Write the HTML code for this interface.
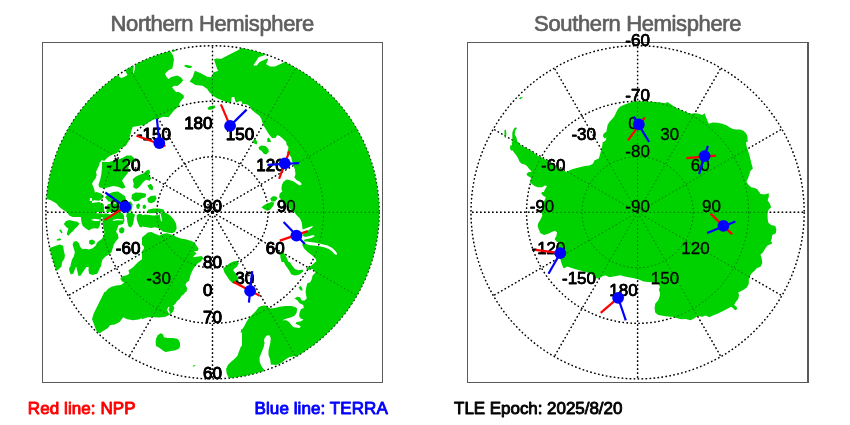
<!DOCTYPE html>
<html><head><meta charset="utf-8"><title>Polar orbit crossings</title>
<style>html,body{margin:0;padding:0;background:#fff}svg{display:block;will-change:transform}text{font-family:"Liberation Sans",sans-serif}</style>
</head><body>
<svg width="850" height="425" viewBox="0 0 850 425">
<rect width="850" height="425" fill="#fff"/>
<defs>
<clipPath id="cn"><circle cx="212.5" cy="212.3" r="166.9"/></clipPath>
<clipPath id="cs"><circle cx="637.6" cy="212.3" r="166.9"/></clipPath>
</defs>
<g fill="none" stroke="#5a5a5a" stroke-width="1">
<rect x="42.5" y="42.5" width="340" height="340"/>
<rect x="467.5" y="42.5" width="341" height="340"/>
</g>
<line x1="808" y1="42" x2="808" y2="383" stroke="#5a5a5a" stroke-width="2"/>
<g fill="none" stroke="#000" stroke-width="1.4" stroke-dasharray="1.6 2.4">
<circle cx="212.5" cy="212.3" r="55.53333333333333"/>
<circle cx="212.5" cy="212.3" r="111.06666666666666"/>
<circle cx="212.5" cy="212.3" r="166.6"/>
<line x1="212.5" y1="212.3" x2="212.50" y2="378.90"/>
<line x1="212.5" y1="212.3" x2="295.80" y2="356.58"/>
<line x1="212.5" y1="212.3" x2="356.78" y2="295.60"/>
<line x1="212.5" y1="212.3" x2="379.10" y2="212.30"/>
<line x1="212.5" y1="212.3" x2="356.78" y2="129.00"/>
<line x1="212.5" y1="212.3" x2="295.80" y2="68.02"/>
<line x1="212.5" y1="212.3" x2="212.50" y2="45.70"/>
<line x1="212.5" y1="212.3" x2="129.20" y2="68.02"/>
<line x1="212.5" y1="212.3" x2="68.22" y2="129.00"/>
<line x1="212.5" y1="212.3" x2="45.90" y2="212.30"/>
<line x1="212.5" y1="212.3" x2="68.22" y2="295.60"/>
<line x1="212.5" y1="212.3" x2="129.20" y2="356.58"/>
</g>
<g fill="none" stroke="#000" stroke-width="1.4" stroke-dasharray="1.6 2.4">
<circle cx="637.6" cy="212.3" r="55.53333333333333"/>
<circle cx="637.6" cy="212.3" r="111.06666666666666"/>
<circle cx="637.6" cy="212.3" r="166.6"/>
<line x1="637.6" y1="212.3" x2="637.60" y2="378.90"/>
<line x1="637.6" y1="212.3" x2="720.90" y2="356.58"/>
<line x1="637.6" y1="212.3" x2="781.88" y2="295.60"/>
<line x1="637.6" y1="212.3" x2="804.20" y2="212.30"/>
<line x1="637.6" y1="212.3" x2="781.88" y2="129.00"/>
<line x1="637.6" y1="212.3" x2="720.90" y2="68.02"/>
<line x1="637.6" y1="212.3" x2="637.60" y2="45.70"/>
<line x1="637.6" y1="212.3" x2="554.30" y2="68.02"/>
<line x1="637.6" y1="212.3" x2="493.32" y2="129.00"/>
<line x1="637.6" y1="212.3" x2="471.00" y2="212.30"/>
<line x1="637.6" y1="212.3" x2="493.32" y2="295.60"/>
<line x1="637.6" y1="212.3" x2="554.30" y2="356.58"/>
</g>
<g font-size="17" fill="#000" stroke="#000" stroke-width="0.95" stroke-linejoin="round">
<text x="170.9" y="140.2" text-anchor="end">-150</text>
<text x="140.4" y="170.7" text-anchor="end">-120</text>
<text x="129.2" y="212.3" text-anchor="end">-90</text>
<text x="140.4" y="254.0" text-anchor="end">-60</text>
<text x="170.9" y="284.4" text-anchor="end">-30</text>
<text x="212.5" y="295.6" text-anchor="end">0</text>
<text x="254.1" y="284.4" text-anchor="end">30</text>
<text x="284.6" y="254.0" text-anchor="end">60</text>
<text x="295.8" y="212.3" text-anchor="end">90</text>
<text x="284.6" y="170.7" text-anchor="end">120</text>
<text x="254.1" y="140.2" text-anchor="end">150</text>
<text x="212.5" y="129.0" text-anchor="end">180</text>
<text x="212.5" y="212.3" text-anchor="middle">90</text>
<text x="212.5" y="267.8" text-anchor="middle">80</text>
<text x="212.5" y="323.4" text-anchor="middle">70</text>
<text x="212.5" y="378.9" text-anchor="middle">60</text>
</g>
<g font-size="17" fill="#000" stroke="#000" stroke-width="0.6" stroke-linejoin="round">
<text x="596.0" y="284.4" text-anchor="end">-150</text>
<text x="565.5" y="253.9" text-anchor="end">-120</text>
<text x="554.3" y="212.3" text-anchor="end">-90</text>
<text x="565.5" y="170.7" text-anchor="end">-60</text>
<text x="596.0" y="140.2" text-anchor="end">-30</text>
<text x="637.6" y="129.0" text-anchor="end">0</text>
<text x="679.2" y="140.2" text-anchor="end">30</text>
<text x="709.7" y="170.7" text-anchor="end">60</text>
<text x="720.9" y="212.3" text-anchor="end">90</text>
<text x="709.7" y="253.9" text-anchor="end">120</text>
<text x="679.2" y="284.4" text-anchor="end">150</text>
<text x="637.6" y="295.6" text-anchor="end">180</text>
<text x="637.6" y="212.3" text-anchor="middle">-90</text>
<text x="637.6" y="156.8" text-anchor="middle">-80</text>
<text x="637.6" y="101.2" text-anchor="middle">-70</text>
<text x="637.6" y="45.7" text-anchor="middle">-60</text>
</g>
<g fill="#00d200" fill-rule="evenodd">
<path d="M189.6,81.4 195.5,84.9 202.6,85.8 207.3,89.1 209.2,91.9 209.1,92.0 212.6,95.5 217.3,98.5 223.2,100.8 229.1,102.8 231.1,102.0 231.7,97.3 234.3,96.9 235.3,101.2 236.5,102.6 239.6,101.2 242.0,101.5 242.0,103.7 247.3,104.4 250.2,106.7 251.4,109.6 254.9,112.6 259.6,116.1 261.4,119.1 262.6,123.2 263.8,126.1 269.1,134.4 272.0,137.9 275.5,137.9 277.3,135.0 279.7,136.1 283.2,139.1 286.2,142.0 286.5,144.4 288.5,147.3 287.9,150.2 286.7,153.2 289.1,154.4 291.2,157.3 292.0,161.4 293.8,162.9 293.2,165.5 294.9,169.3 295.5,174.3 294.4,177.3 296.4,179.9 299.6,181.4 302.0,184.3 299.6,185.5 296.1,183.2 293.8,181.4 290.2,180.2 286.7,179.6 283.8,181.4 282.0,184.4 281.4,189.1 282.4,192.0 281.4,192.0 279.6,193.8 279.1,197.3 286.7,204.9 292.8,212.0 294.3,212.0 296.4,214.9 299.9,218.5 301.7,222.6 302.6,229.6 312.3,225.9 312.9,226.7 307.8,230.8 303.5,233.8 302.3,235.5 305.2,236.9 313.5,234.9 314.8,236.1 311.7,238.1 304.6,239.6 303.5,241.4 302.3,244.9 304.1,248.5 307.6,252.0 312.3,255.5 315.8,259.1 316.3,262.0 315.3,262.0 311.4,265.5 306.1,268.5 308.1,269.9 312.6,269.1 315.5,272.6 312.6,275.5 311.6,279.6 310.2,282.2 307.3,283.2 306.1,287.9 305.6,292.0 306.7,298.5 304.3,300.8 301.4,300.2 300.2,297.3 297.3,296.7 294.4,298.5 297.3,300.2 299.6,303.2 303.2,305.0 303.8,307.9 301.0,309.0 299.6,312.6 299.1,316.1 300.8,318.5 303.7,319.7 300.2,321.4 296.7,322.0 295.5,323.8 298.5,324.9 300.8,326.2 299.6,327.9 293.8,327.3 291.4,324.9 289.1,322.0 286.1,320.2 282.2,320.2 286.7,318.5 291.4,317.3 294.9,315.5 296.7,312.6 297.1,308.5 295.5,307.3 291.4,306.1 285.5,306.1 279.6,306.7 274.9,307.9 270.2,308.5 267.3,306.7 264.9,305.5 261.4,306.1 258.5,307.3 256.1,310.8 250.2,316.7 247.9,319.6 246.1,322.6 244.4,326.1 242.1,329.5 242.0,329.5 242.0,328.9 241.4,329.1 240.6,332.6 242.0,332.6 242.0,345.5 240.8,346.7 237.3,356.1 234.9,358.5 231.4,361.4 227.9,364.9 226.1,369.1 226.7,373.8 228.5,377.3 229.4,378.2 237.0,377.3 241.0,376.6 245.0,375.9 253.0,374.1 260.9,371.9 264.8,370.7 261.4,366.1 259.7,362.0 259.6,357.3 263.8,346.7 264.7,342.0 263.9,342.0 264.4,338.5 266.7,335.5 269.6,335.3 270.8,338.5 270.3,342.0 270.5,342.1 268.5,350.2 268.5,354.9 270.2,359.6 270.8,364.4 276.1,364.9 280.8,363.2 285.5,359.6 289.1,357.3 294.9,356.1 295.5,356.7 290.4,359.8 291.1,359.4 298.3,355.4 305.2,351.0 311.9,346.3 315.1,343.8 318.3,341.2 324.5,335.9 327.5,333.1 333.3,327.3 336.1,324.3 341.4,318.1 346.5,311.7 348.9,308.3 353.4,301.5 357.6,294.5 361.5,287.3 365.0,279.9 368.1,272.3 370.9,264.6 373.3,256.8 375.2,248.8 376.8,240.8 378.0,232.7 378.8,224.6 379.2,216.4 379.2,208.2 378.8,200.0 378.0,191.9 376.8,183.8 375.2,175.8 374.3,171.8 372.1,163.9 369.5,156.1 368.1,152.3 365.0,144.7 361.5,137.3 357.6,130.1 353.4,123.1 351.2,119.6 346.5,112.9 341.4,106.5 336.1,100.3 330.4,94.4 324.5,88.7 321.4,86.0 315.1,80.8 311.9,78.3 305.2,73.6 298.3,69.2 291.1,65.2 284.4,61.8 284.3,62.2 274.9,66.5 270.2,66.5 266.1,64.3 268.1,59.6 267.3,58.5 259.6,62.0 256.7,65.5 253.3,65.5 258.5,57.3 266.1,54.7 266.1,54.4 260.9,52.7 253.0,50.5 249.0,49.6 241.7,48.1 237.9,50.2 228.5,54.9 221.4,58.7 216.1,58.5 214.0,59.6 217.3,69.6 218.4,70.8 213.2,72.6 212.4,75.5 210.8,77.3 207.3,76.7 200.8,73.2 194.9,70.8 192.6,77.3ZM307.0,241.4 315.8,242.8 327.6,245.5 332.3,247.9 335.8,251.4 337.0,253.4 337.0,254.8 334.6,254.3 332.3,251.4 328.8,249.1 324.1,247.3 318.2,246.1 308.8,244.9 305.2,243.5 303.5,241.5Z"/>
<path d="M279.9,252.6 280.5,257.9 281.6,262.0 284.0,262.0 284.9,264.4 288.5,269.6 291.4,274.4 294.9,275.5 299.6,274.4 303.2,271.4 302.6,269.6 298.5,270.2 294.9,269.1 292.0,265.5 289.8,262.0 288.5,262.0 286.4,257.3 284.1,253.2 282.3,250.8Z"/>
<path d="M298.5,287.3 300.2,290.0 302.6,290.8 302.2,288.5 300.8,286.1Z"/>
<path d="M270.2,198.5 271.4,201.4 274.9,201.4 277.3,199.1 276.7,196.7 273.2,196.1Z"/>
<path d="M261.4,207.3 263.8,209.1 267.3,210.8 270.2,209.6 273.2,206.1 274.4,202.6 271.4,202.0 267.9,203.2 264.4,204.9Z"/>
<path d="M267.3,142.0 271.0,142.0 270.2,139.6 268.8,137.6 267.3,138.5Z"/>
<path d="M258.5,147.3 259.1,149.6 261.4,150.8 263.8,153.8 266.1,154.4 268.8,152.0 268.5,149.1 265.5,146.1 261.4,145.5Z"/>
<path d="M253.2,142.0 254.0,142.0 254.4,143.8 256.7,144.4 257.3,142.0 257.1,142.0 256.7,140.8 254.9,139.1 253.2,140.2Z"/>
<path d="M223.2,268.5 224.4,272.6 229.6,280.2 232.6,283.2 236.1,283.8 238.5,281.4 237.9,277.3 235.5,273.2 233.2,270.2 234.4,268.5 236.7,266.9 238.7,263.8 237.3,260.8 233.2,261.4 229.6,263.2Z"/>
<path d="M207.4,107.9 208.8,110.1 212.8,109.2 215.6,107.3 214.4,105.6 210.2,105.9Z"/>
<path d="M92.0,319.1 95.5,328.5 97.3,332.6 99.6,333.2 107.9,327.9 110.2,324.9 114.9,324.4 119.6,322.0 123.2,317.3 126.7,319.1 132.6,320.2 138.5,319.6 141.9,318.3 142.0,319.3 147.9,317.3 153.8,317.3 159.6,317.6 165.5,316.7 170.2,314.4 173.2,311.4 174.4,307.9 173.2,305.5 175.5,303.8 176.7,301.4 179.6,299.1 181.4,296.1 184.4,293.8 185.1,292.0 186.3,292.0 187.3,288.5 185.5,284.9 186.5,282.6 189.1,280.8 190.2,276.1 192.0,271.4 194.4,267.3 197.3,263.8 200.8,261.4 203.2,258.5 202.0,256.1 192.9,257.3 193.8,255.9 196.7,253.2 193.9,251.6 197.9,250.8 198.5,248.5 196.1,244.9 194.4,242.0 193.2,242.0 192.6,241.4 186.7,239.6 180.8,238.5 176.1,236.7 172.6,234.9 167.3,233.2 163.2,233.8 159.6,235.5 154.9,233.8 151.4,232.0 147.9,232.6 142.0,237.5 142.0,245.2 143.2,245.5 144.1,247.9 142.9,250.5 142.0,250.6 142.0,259.2 138.5,261.7 134.9,265.2 133.4,267.0 133.2,267.0 131.4,268.5 128.5,270.2 129.3,273.8 126.7,275.3 123.2,276.1 120.2,278.5 122.0,281.4 124.3,282.6 120.8,284.9 116.1,285.5 111.4,286.7 107.9,289.1 105.4,292.0 104.4,292.0 93.8,313.2ZM168.5,309.6 170.2,313.1 169.1,313.7 166.9,309.7 168.5,306.7 169.6,307.3Z"/>
<path d="M192.6,366.1 193.8,366.7 195.5,365.5 194.4,364.9Z"/>
<path d="M183.8,66.1 187.9,68.1 191.2,68.1 192.0,65.9 189.1,65.5 186.1,64.7Z"/>
<path d="M50.8,200.2 56.1,203.2 59.6,207.3 62.6,209.6 67.3,212.6 69.1,215.5 72.6,217.0 80.9,217.0 81.4,221.7 82.6,225.8 86.1,228.8 89.1,230.5 91.4,228.8 94.9,228.2 97.9,228.8 99.6,226.4 101.2,217.0 102.6,217.0 102.6,221.7 103.2,227.6 104.4,232.3 103.8,235.8 102.0,238.8 97.3,242.3 95.5,245.8 92.6,248.2 89.1,249.4 85.5,248.8 82.6,249.3 80.2,247.0 79.1,243.5 76.7,241.1 73.8,241.7 72.6,244.6 73.8,248.8 74.9,252.3 73.8,256.4 72.0,259.4 70.8,264.1 70.3,267.0 69.4,267.0 69.1,270.2 70.8,274.4 73.2,273.8 74.9,269.6 75.8,267.0 76.3,267.0 78.5,276.1 80.8,275.5 83.2,271.4 86.5,267.0 88.7,267.0 88.5,270.2 89.1,273.8 92.6,274.9 97.3,273.8 99.6,269.1 100.1,267.0 100.9,267.0 101.4,263.5 102.6,259.4 105.5,256.4 109.1,254.6 111.4,252.3 112.6,248.8 113.8,244.6 116.1,241.1 118.5,238.2 117.9,234.6 116.1,231.7 117.3,228.8 118.5,225.2 123.2,224.1 124.4,220.5 123.9,217.1 124.3,217.0 123.2,213.8 120.2,212.1 120.4,212.0 121.4,206.7 119.1,203.8 112.0,203.2 107.3,204.4 106.2,212.0 116.6,212.0 116.7,212.1 114.9,212.6 110.2,214.4 105.5,213.2 102.6,214.3 102.6,213.5 95.6,213.3 95.8,212.0 104.3,212.0 103.8,204.4 99.1,202.0 92.0,203.0 92.0,201.0 94.4,200.2 99.1,200.8 103.8,197.3 101.4,193.8 96.7,192.0 94.6,192.6 94.9,192.0 93.8,187.9 92.0,183.8 93.2,181.4 95.5,178.5 96.7,174.9 96.0,172.0 97.3,169.1 99.1,165.5 99.9,162.0 100.5,162.0 101.4,160.2 104.4,160.8 107.9,157.3 111.4,154.9 115.5,153.8 119.1,151.4 119.7,149.1 123.2,147.3 126.1,145.5 127.9,142.0 128.4,142.0 131.2,131.4 132.6,127.1 141.9,125.2 142.0,125.7 145.5,124.4 149.1,122.0 153.8,119.6 158.5,118.5 163.2,116.7 168.5,117.3 173.8,110.8 176.1,108.5 178.5,106.7 179.6,103.2 181.4,100.2 183.8,97.9 183.8,95.5 180.8,93.2 178.8,92.0 176.1,92.0 173.8,89.6 172.0,87.3 174.4,85.8 177.3,86.1 180.8,83.2 183.2,80.2 180.8,77.3 177.3,75.5 171.4,77.1 168.5,79.0 166.7,77.3 165.0,73.8 168.5,70.2 172.4,68.5 174.0,59.6 172.8,54.9 170.2,51.2 170.2,51.0 164.1,52.7 160.2,53.9 152.5,56.7 144.9,59.8 141.2,61.5 135.1,64.6 134.7,69.1 133.8,73.3 132.7,72.9 133.5,69.1 133.7,65.3 125.7,69.8 126.1,72.5 127.5,74.9 124.2,77.1 121.1,78.0 117.4,75.3 113.1,78.3 106.7,83.4 103.6,86.0 97.5,91.5 91.7,97.3 88.9,100.3 83.6,106.5 81.0,109.7 76.1,116.3 71.6,123.1 67.4,130.1 65.4,133.7 63.5,137.3 60.0,144.7 56.9,152.3 54.1,160.0 52.9,163.9 50.7,171.8 48.9,179.8 47.5,187.8 47.0,191.9 46.3,198.7ZM112.6,220.0 117.3,218.8 123.2,219.4 123.1,220.5 117.3,220.2 113.2,221.1ZM93.8,218.8 99.6,219.4 99.6,221.1 94.9,221.1 90.9,220.0ZM92.0,201.0 89.7,200.9 90.0,198.1 92.0,198.1Z"/>
<path d="M155.6,342.0 156.1,346.1 159.6,347.9 163.2,350.8 165.5,352.0 175.5,350.2 179.1,348.5 180.2,346.1 179.8,342.0 179.3,342.0 179.1,340.8 177.3,338.8 172.6,338.1 167.9,337.9 163.8,337.3 163.2,334.4 160.8,333.2 157.9,334.9 156.1,338.5Z"/>
<path d="M136.7,214.9 136.7,219.4 137.9,222.9 139.6,227.0 142.0,227.2 142.1,226.4 146.7,227.3 151.4,227.9 154.9,227.3 159.6,228.5 162.6,231.4 167.3,232.6 172.0,233.2 174.9,232.0 176.7,228.5 176.1,223.8 173.8,219.6 170.2,215.5 166.7,213.2 162.9,212.1 162.9,212.0 164.2,212.0 163.8,209.6 159.1,208.5 153.2,208.5 148.5,209.6 146.6,212.0 149.1,213.2 153.8,213.2 158.5,212.6 160.5,212.0 162.4,212.0 159.6,213.2 158.5,214.9 153.8,215.5 149.1,214.9 145.5,214.4 142.0,215.2 142.0,214.2 139.6,213.8ZM162.2,220.8 161.0,221.4 159.5,213.8 160.6,213.6Z"/>
<path d="M171.4,50.8 173.2,52.0 176.4,50.2 175.8,49.6 172.8,50.3Z"/>
<path d="M147.3,198.5 147.9,202.0 150.8,203.2 154.4,202.0 156.7,198.5 155.5,195.5 150.8,196.1Z"/>
<path d="M147.3,185.5 149.6,189.6 152.6,190.2 153.2,186.7 150.8,183.8Z"/>
<path d="M132.6,179.6 133.8,183.8 133.2,187.3 136.1,189.1 139.1,187.3 143.8,181.4 146.1,179.7 149.6,180.8 151.4,177.9 148.5,175.5 150.2,172.6 149.1,169.6 146.1,170.8 143.8,173.2 139.1,174.9 135.5,176.7Z"/>
<path d="M142.6,205.5 142.8,208.5 144.9,209.1 146.4,206.7 144.9,204.4Z"/>
<path d="M131.4,198.5 134.4,201.4 139.1,200.8 141.4,198.5 145.5,197.3 146.1,193.8 141.4,192.8 135.5,192.6 132.0,194.4Z"/>
<path d="M136.1,204.9 136.7,208.5 139.1,209.1 140.2,204.9 138.5,203.2Z"/>
<path d="M98.5,184.4 99.1,187.3 103.8,188.5 113.2,186.1 117.9,186.7 122.6,188.8 125.5,187.3 123.8,183.8 122.0,180.8 124.4,177.3 127.3,173.8 128.7,170.8 128.5,166.7 127.5,162.0 135.9,162.0 135.9,161.4 134.4,158.5 131.4,155.5 126.7,155.5 123.2,157.5 118.5,159.4 109.6,161.8 108.6,162.0 102.0,162.0 102.0,166.7 101.4,173.8 100.2,179.6Z"/>
<path d="M126.1,216.7 126.2,217.0 126.8,217.0 127.3,221.7 128.5,226.6 130.8,227.4 132.6,225.2 133.8,220.5 134.2,217.0 134.6,217.0 134.9,214.4 131.4,212.6 126.7,213.2Z"/>
<path d="M126.7,212.0 130.0,212.0 132.0,209.1 132.6,204.4 130.8,201.4 127.3,202.0Z"/>
<path d="M104.9,197.3 108.5,201.4 113.2,202.0 117.9,203.2 122.6,202.6 126.1,199.6 124.9,196.1 117.9,191.4 113.2,192.0 108.5,193.8Z"/>
<path d="M119.1,232.1 121.4,233.7 124.1,232.3 124.4,228.8 122.0,227.0 119.1,228.8Z"/>
<path d="M89.1,240.5 89.1,243.5 91.4,245.0 94.7,243.8 94.9,241.1 92.0,239.6Z"/>
<path d="M63.8,224.1 66.1,227.0 68.5,228.8 67.3,231.7 66.7,234.6 68.5,235.8 70.8,232.9 73.2,231.1 74.9,228.8 77.3,226.4 79.6,223.5 77.3,221.7 73.2,221.1 69.6,219.9 66.1,221.1Z"/>
<path d="M58.5,269.6 60.8,267.3 60.9,267.0 61.5,267.0 62.0,262.3 64.4,258.8 64.9,255.2 63.8,250.5 63.2,245.8 59.6,244.6 53.8,246.4 49.6,248.1 50.7,252.8 52.9,260.7 54.1,264.6 56.3,270.7Z"/>
<path d="M59.1,229.9 61.4,233.5 62.6,232.3 60.8,229.4Z"/>
<path d="M56.7,240.5 59.6,240.5 61.4,239.4 59.6,238.2 56.7,239.4Z"/>
</g>
<g fill="#00d200" fill-rule="evenodd">
<path d="M509.9,147.9 511.1,150.8 512.3,150.3 516.4,155.5 518.2,158.5 519.4,161.4 521.7,163.8 524.6,164.4 527.0,166.1 528.8,168.5 530.5,170.2 531.7,171.9 528.8,172.0 526.4,173.8 527.6,176.1 530.5,177.3 531.1,179.6 529.9,182.6 534.6,186.1 537.6,187.3 542.3,187.3 544.7,185.5 547.0,186.1 545.2,189.1 543.8,192.0 542.3,192.0 541.1,193.2 542.9,195.5 545.8,197.3 542.3,206.1 541.7,212.0 542.3,215.5 540.5,219.6 538.2,223.2 537.6,226.1 538.8,229.6 540.5,233.2 544.1,234.9 548.2,233.8 551.7,232.0 555.2,230.8 557.0,232.6 556.4,236.1 554.6,239.1 556.4,241.4 557.6,242.0 558.2,242.0 558.2,246.7 559.9,257.3 561.1,262.0 562.3,265.5 563.7,268.5 567.0,266.8 567.1,266.4 571.7,267.9 576.4,269.6 585.8,272.0 590.5,273.8 594.1,276.1 597.0,278.5 599.9,277.9 602.9,276.1 605.8,275.5 609.4,277.3 620.5,275.2 624.6,276.4 634.1,278.2 638.8,279.6 643.5,281.4 648.2,282.0 655.2,282.6 658.8,284.4 659.9,287.3 658.8,289.6 659.7,292.0 659.9,292.0 659.9,295.5 658.2,300.2 655.2,303.8 654.6,308.5 655.2,312.6 658.2,314.9 667.0,316.6 667.0,316.3 669.4,316.7 672.9,316.7 676.4,318.1 681.1,319.3 685.8,319.1 690.5,320.2 694.1,318.5 697.6,316.1 702.3,316.7 705.8,315.5 709.4,317.3 712.9,315.5 717.6,313.8 727.0,309.1 731.1,306.7 732.9,307.9 735.2,310.2 737.4,309.1 736.4,306.7 734.1,304.9 735.8,302.0 738.2,299.1 739.0,295.5 738.4,292.0 739.4,292.0 744.1,289.6 747.0,287.3 748.8,283.8 748.8,279.6 749.9,276.1 751.7,273.2 754.6,270.8 757.0,267.9 760.5,266.7 762.3,263.2 761.7,258.5 760.5,254.4 762.9,252.6 765.2,248.5 767.6,245.5 771.7,243.8 772.1,242.0 770.7,241.9 771.7,238.5 772.3,235.0 775.8,233.2 776.4,229.6 775.2,226.1 771.1,224.9 768.2,222.6 767.6,217.9 767.6,212.6 768.8,209.6 771.1,207.3 769.9,203.8 767.6,200.2 768.8,196.7 768.8,193.2 764.1,194.4 760.0,193.8 759.6,192.0 759.0,192.0 757.6,189.6 754.6,187.9 751.1,187.3 748.2,184.4 746.4,181.4 748.2,177.9 750.5,170.8 752.9,168.5 751.7,164.4 749.4,154.9 746.4,145.5 746.0,142.0 747.6,142.0 747.6,137.3 746.4,133.8 743.5,130.8 739.9,129.4 736.4,129.6 732.9,129.1 729.4,127.3 727.0,125.5 722.3,123.8 717.6,122.8 712.9,122.6 708.8,123.7 705.8,116.7 704.6,113.2 702.3,114.9 698.8,113.8 695.2,113.2 690.5,113.8 681.1,110.2 676.4,107.9 668.2,102.6 667.0,102.1 667.0,102.4 664.6,103.2 661.1,102.6 647.0,101.6 637.6,101.2 632.9,101.6 628.2,103.2 623.5,104.9 619.9,106.7 617.6,109.6 614.1,116.7 611.7,119.6 609.4,122.0 607.6,124.9 606.4,131.4 605.2,132.6 603.5,133.8 602.9,136.1 604.6,138.5 606.3,137.4 606.4,137.4 605.8,140.2 603.6,142.0 602.7,142.0 602.3,145.5 599.9,154.9 598.8,158.5 594.6,160.2 592.9,163.8 589.4,165.5 584.6,166.1 572.9,169.1 567.0,171.4 567.0,172.3 558.8,167.9 551.7,163.2 547.0,160.2 536.4,154.9 532.9,152.0 528.2,149.1 523.5,146.7 519.9,144.4 518.4,142.0 517.5,142.0 516.4,137.3 514.7,134.4 515.2,130.8 517.0,127.9 515.2,127.3 513.5,129.6 512.3,132.6 512.3,142.0 511.8,142.0 511.9,145.5 510.5,144.9Z"/>
<path d="M518.8,98.5 520.5,99.3 522.9,97.3 521.1,96.9Z"/>
<path d="M504.4,130.2 504.6,137.3 505.8,137.9 506.4,133.2 505.8,129.4Z"/>
</g>
<g fill="none" stroke="rgba(0,0,0,0.5)" stroke-width="0.9" stroke-dasharray="1.5 2.5">
<circle cx="212.5" cy="212.3" r="55.53333333333333"/>
<circle cx="212.5" cy="212.3" r="111.06666666666666"/>
<circle cx="212.5" cy="212.3" r="166.6"/>
<line x1="212.5" y1="212.3" x2="212.50" y2="378.90"/>
<line x1="212.5" y1="212.3" x2="295.80" y2="356.58"/>
<line x1="212.5" y1="212.3" x2="356.78" y2="295.60"/>
<line x1="212.5" y1="212.3" x2="379.10" y2="212.30"/>
<line x1="212.5" y1="212.3" x2="356.78" y2="129.00"/>
<line x1="212.5" y1="212.3" x2="295.80" y2="68.02"/>
<line x1="212.5" y1="212.3" x2="212.50" y2="45.70"/>
<line x1="212.5" y1="212.3" x2="129.20" y2="68.02"/>
<line x1="212.5" y1="212.3" x2="68.22" y2="129.00"/>
<line x1="212.5" y1="212.3" x2="45.90" y2="212.30"/>
<line x1="212.5" y1="212.3" x2="68.22" y2="295.60"/>
<line x1="212.5" y1="212.3" x2="129.20" y2="356.58"/>
</g>
<g fill="none" stroke="rgba(0,0,0,0.5)" stroke-width="0.9" stroke-dasharray="1.5 2.5">
<circle cx="637.6" cy="212.3" r="55.53333333333333"/>
<circle cx="637.6" cy="212.3" r="111.06666666666666"/>
<circle cx="637.6" cy="212.3" r="166.6"/>
<line x1="637.6" y1="212.3" x2="637.60" y2="378.90"/>
<line x1="637.6" y1="212.3" x2="720.90" y2="356.58"/>
<line x1="637.6" y1="212.3" x2="781.88" y2="295.60"/>
<line x1="637.6" y1="212.3" x2="804.20" y2="212.30"/>
<line x1="637.6" y1="212.3" x2="781.88" y2="129.00"/>
<line x1="637.6" y1="212.3" x2="720.90" y2="68.02"/>
<line x1="637.6" y1="212.3" x2="637.60" y2="45.70"/>
<line x1="637.6" y1="212.3" x2="554.30" y2="68.02"/>
<line x1="637.6" y1="212.3" x2="493.32" y2="129.00"/>
<line x1="637.6" y1="212.3" x2="471.00" y2="212.30"/>
<line x1="637.6" y1="212.3" x2="493.32" y2="295.60"/>
<line x1="637.6" y1="212.3" x2="554.30" y2="356.58"/>
</g>
<g font-size="17" fill="#000" stroke="#000" stroke-width="0.3" stroke-linejoin="round">
<text x="170.9" y="140.2" text-anchor="end">-150</text>
<text x="140.4" y="170.7" text-anchor="end">-120</text>
<text x="129.2" y="212.3" text-anchor="end">-90</text>
<text x="140.4" y="254.0" text-anchor="end">-60</text>
<text x="170.9" y="284.4" text-anchor="end">-30</text>
<text x="212.5" y="295.6" text-anchor="end">0</text>
<text x="254.1" y="284.4" text-anchor="end">30</text>
<text x="284.6" y="254.0" text-anchor="end">60</text>
<text x="295.8" y="212.3" text-anchor="end">90</text>
<text x="284.6" y="170.7" text-anchor="end">120</text>
<text x="254.1" y="140.2" text-anchor="end">150</text>
<text x="212.5" y="129.0" text-anchor="end">180</text>
<text x="212.5" y="212.3" text-anchor="middle">90</text>
<text x="212.5" y="267.8" text-anchor="middle">80</text>
<text x="212.5" y="323.4" text-anchor="middle">70</text>
<text x="212.5" y="378.9" text-anchor="middle">60</text>
</g>
<g font-size="17" fill="#000" stroke="#000" stroke-width="0.3" stroke-linejoin="round">
<text x="596.0" y="284.4" text-anchor="end">-150</text>
<text x="565.5" y="253.9" text-anchor="end">-120</text>
<text x="554.3" y="212.3" text-anchor="end">-90</text>
<text x="565.5" y="170.7" text-anchor="end">-60</text>
<text x="596.0" y="140.2" text-anchor="end">-30</text>
<text x="637.6" y="129.0" text-anchor="end">0</text>
<text x="679.2" y="140.2" text-anchor="end">30</text>
<text x="709.7" y="170.7" text-anchor="end">60</text>
<text x="720.9" y="212.3" text-anchor="end">90</text>
<text x="709.7" y="253.9" text-anchor="end">120</text>
<text x="679.2" y="284.4" text-anchor="end">150</text>
<text x="637.6" y="295.6" text-anchor="end">180</text>
<text x="637.6" y="212.3" text-anchor="middle">-90</text>
<text x="637.6" y="156.8" text-anchor="middle">-80</text>
<text x="637.6" y="101.2" text-anchor="middle">-70</text>
<text x="637.6" y="45.7" text-anchor="middle">-60</text>
</g>
<g fill="none" stroke-width="2.2" stroke-linecap="butt">
<polyline stroke="#ff0000" points="136.5,135.8 165.5,146.0"/>
<polyline stroke="#0000ff" points="156.9,118.6 159.3,143.0"/>
<polyline stroke="#ff0000" points="220.9,104.4 230.1,125.9"/>
<polyline stroke="#0000ff" points="246.6,109.6 230.1,125.9"/>
<polyline stroke="#ff0000" points="289.3,151.4 279.1,178.9"/>
<polyline stroke="#0000ff" points="267.4,164.8 298.9,163.1"/>
<polyline stroke="#ff0000" points="104.6,220.1 125.3,206.9"/>
<polyline stroke="#0000ff" points="105.3,192.5 125.3,206.9"/>
<polyline stroke="#ff0000" points="279.8,240.6 307.9,231.1"/>
<polyline stroke="#0000ff" points="283.6,222.0 304.8,244.1"/>
<polyline stroke="#ff0000" points="233.1,281.8 259.9,295.9"/>
<polyline stroke="#0000ff" points="252.2,271.2 248.9,302.7"/>
<polyline stroke="#ff0000" points="644.8,117.3 627.9,140.3"/>
<polyline stroke="#0000ff" points="633.8,116.6 649.1,142.0"/>
<polyline stroke="#ff0000" points="686.4,158.2 715.9,155.6"/>
<polyline stroke="#0000ff" points="707.9,145.8 699.1,174.0"/>
<polyline stroke="#ff0000" points="710.6,213.6 732.2,234.4"/>
<polyline stroke="#0000ff" points="707.1,233.0 735.4,221.4"/>
<polyline stroke="#ff0000" points="535.4,249.8 560.3,253.1"/>
<polyline stroke="#0000ff" points="548.5,273.8 560.3,253.1"/>
<polyline stroke="#ff0000" points="600.7,312.9 618.1,297.8"/>
<polyline stroke="#0000ff" points="618.1,297.8 621.6,308.0 625.8,320.4"/>
</g>
<g fill="#0000ff">
<circle cx="159.3" cy="143.0" r="5.9"/>
<circle cx="230.1" cy="125.9" r="5.9"/>
<circle cx="284.8" cy="163.4" r="5.9"/>
<circle cx="125.3" cy="206.9" r="5.9"/>
<circle cx="296.4" cy="235.6" r="5.9"/>
<circle cx="250.1" cy="290.9" r="5.9"/>
<circle cx="638.8" cy="124.4" r="5.9"/>
<circle cx="704.6" cy="156.1" r="5.9"/>
<circle cx="723.4" cy="225.9" r="5.9"/>
<circle cx="560.3" cy="253.1" r="5.9"/>
<circle cx="618.1" cy="297.8" r="5.9"/>
</g>
<g font-size="22" fill="#5f5f5f" stroke="#5f5f5f" stroke-width="0.7" stroke-linejoin="round">
<text x="110.5" y="30.7" textLength="203.8" lengthAdjust="spacing">Northern Hemisphere</text>
<text x="534.1" y="30.7" textLength="207.4" lengthAdjust="spacing">Southern Hemisphere</text>
</g>
<g font-size="17" stroke-width="0.9" stroke-linejoin="round">
<text x="27.8" y="413.8" fill="#ff0000" stroke="#ff0000" textLength="107.8" lengthAdjust="spacing">Red line: NPP</text>
<text x="254.6" y="413.8" fill="#0000ff" stroke="#0000ff" textLength="133.2" lengthAdjust="spacing">Blue line: TERRA</text>
<text x="454.1" y="413.8" fill="#000" stroke="#000" textLength="168.3" lengthAdjust="spacing">TLE Epoch: 2025/8/20</text>
</g>
</svg></body></html>
